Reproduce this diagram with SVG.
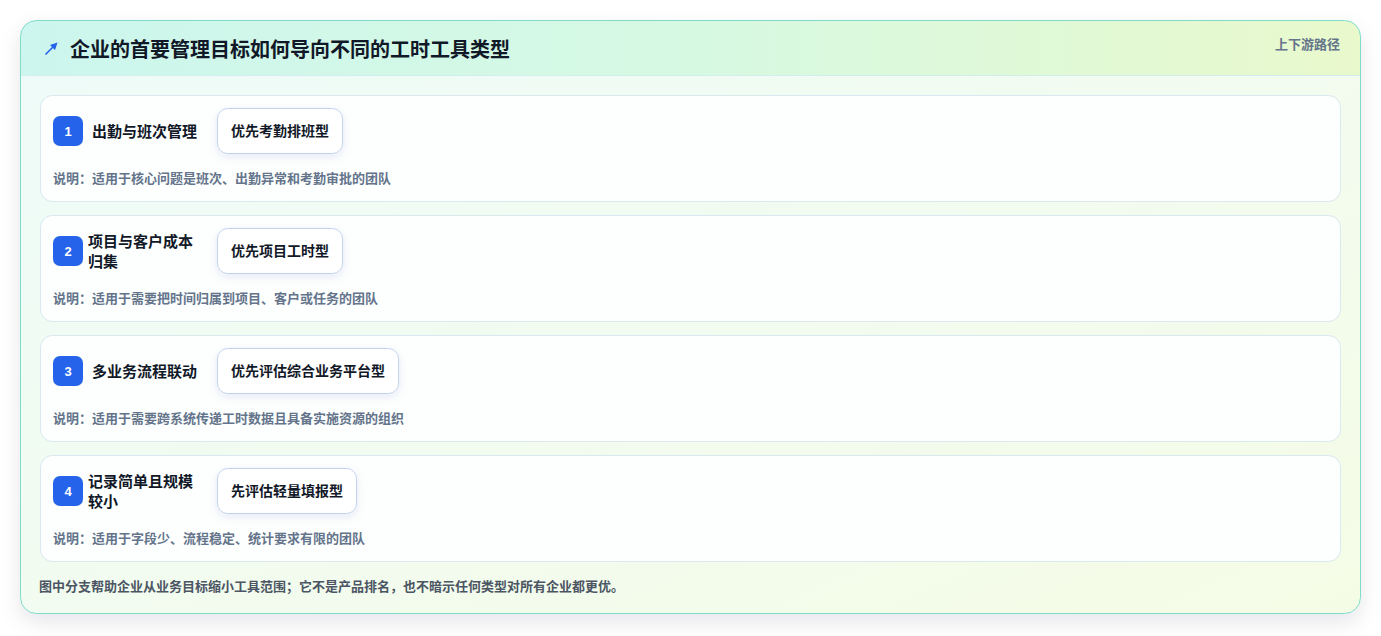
<svg xmlns="http://www.w3.org/2000/svg" width="1381" height="636" viewBox="0 0 1381 636">
<defs>
<linearGradient id="hdr" x1="0" y1="0" x2="1" y2="0">
<stop offset="0" stop-color="#ccf6ee"/>
<stop offset="0.5" stop-color="#d6f9e2"/>
<stop offset="1" stop-color="#e9f9cc"/>
</linearGradient>
<linearGradient id="body" x1="0" y1="0" x2="1" y2="1">
<stop offset="0" stop-color="#eefbf9"/>
<stop offset="1" stop-color="#f5fce6"/>
</linearGradient>
<clipPath id="cardclip"><rect x="20.5" y="20.5" width="1340" height="593" rx="16"/></clipPath>
<filter id="cardsh" x="-5%" y="-10%" width="110%" height="125%">
<feDropShadow dx="0" dy="8" stdDeviation="10" flood-color="#0f172a" flood-opacity="0.10"/>
</filter>
<filter id="toolsh" x="-20%" y="-30%" width="140%" height="170%">
<feDropShadow dx="0" dy="3" stdDeviation="4" flood-color="#1e3a8a" flood-opacity="0.10"/>
</filter>
<marker id="ah" viewBox="0 0 10 10" refX="6" refY="5" markerWidth="4.5" markerHeight="4.5" orient="auto"><path d="M0,0 L10,5 L0,10 z" fill="#2563eb"/></marker>
<style>
.row{fill:#fdfffe;stroke:#d9e9ef;stroke-width:1}
.badge{fill:#2563eb}
.num{font-family:"Liberation Sans","Noto Sans CJK SC",sans-serif;font-size:13px;font-weight:700;fill:#ffffff;text-anchor:middle}
.lbl{font-family:"Noto Sans CJK SC","Liberation Sans",sans-serif;font-size:15px;font-weight:700;fill:#111827}
.tool{fill:#ffffff;stroke:#c3d3ee;stroke-width:1}
.tt{font-family:"Noto Sans CJK SC","Liberation Sans",sans-serif;font-size:14px;font-weight:700;fill:#111827;text-anchor:middle}
.desc{font-family:"Noto Sans CJK SC","Liberation Sans",sans-serif;font-size:13px;font-weight:700;fill:#64748b}
.title{font-family:"Noto Sans CJK SC","Liberation Sans",sans-serif;font-size:20px;font-weight:700;fill:#111827}
.meta{font-family:"Noto Sans CJK SC","Liberation Sans",sans-serif;font-size:13px;font-weight:700;fill:#64748b;text-anchor:end}
.foot{font-family:"Noto Sans CJK SC","Liberation Sans",sans-serif;font-size:13px;font-weight:700;fill:#4b5563}
</style>
</defs>
<rect x="0" y="0" width="1381" height="636" fill="#ffffff"/>
<g id="card">
<rect x="20.5" y="20.5" width="1340" height="593" rx="16" fill="url(#body)" filter="url(#cardsh)"/>
<g clip-path="url(#cardclip)">
<rect x="20" y="20" width="1341" height="55" fill="url(#hdr)"/>
<line x1="20" y1="75.5" x2="1361" y2="75.5" stroke="#d3eeee" stroke-width="1"/>
</g>
<rect x="20.5" y="20.5" width="1340" height="593" rx="16" fill="none" stroke="#7fdccb" stroke-width="1"/>
</g>
<g id="header">
<line x1="45.5" y1="54.5" x2="55.5" y2="44.5" stroke="#2563eb" stroke-width="1.6" marker-end="url(#ah)"/>
<text class="title" x="70" y="56.5">企业的首要管理目标如何导向不同的工时工具类型</text>
<text class="meta" x="1340" y="49">上下游路径</text>
</g>
<g id="node-1">
<rect class="row" x="40.5" y="95.5" width="1300" height="106" rx="12"/>
<rect class="badge" x="53" y="116" width="30" height="30" rx="7"/>
<text class="num" x="68" y="135.5">1</text>
<text class="lbl" x="92" y="136.5">出勤与班次管理</text>
<rect class="tool" x="217.5" y="108.5" width="125" height="45" rx="10" filter="url(#toolsh)"/>
<text class="tt" x="280" y="135.5">优先考勤排班型</text>
<text class="desc" x="53" y="183">说明：适用于核心问题是班次、出勤异常和考勤审批的团队</text>
</g>
<g id="node-2">
<rect class="row" x="40.5" y="215.5" width="1300" height="106" rx="12"/>
<rect class="badge" x="53" y="236" width="30" height="30" rx="7"/>
<text class="num" x="68" y="255.5">2</text>
<text class="lbl" x="88" y="246.5">项目与客户成本</text>
<text class="lbl" x="88" y="267">归集</text>
<rect class="tool" x="217.5" y="228.5" width="125" height="45" rx="10" filter="url(#toolsh)"/>
<text class="tt" x="280" y="255.5">优先项目工时型</text>
<text class="desc" x="53" y="303">说明：适用于需要把时间归属到项目、客户或任务的团队</text>
</g>
<g id="node-3">
<rect class="row" x="40.5" y="335.5" width="1300" height="106" rx="12"/>
<rect class="badge" x="53" y="356" width="30" height="30" rx="7"/>
<text class="num" x="68" y="375.5">3</text>
<text class="lbl" x="92" y="376.5">多业务流程联动</text>
<rect class="tool" x="217.5" y="348.5" width="181" height="45" rx="10" filter="url(#toolsh)"/>
<text class="tt" x="308" y="375.5">优先评估综合业务平台型</text>
<text class="desc" x="53" y="423">说明：适用于需要跨系统传递工时数据且具备实施资源的组织</text>
</g>
<g id="node-4">
<rect class="row" x="40.5" y="455.5" width="1300" height="106" rx="12"/>
<rect class="badge" x="53" y="476" width="30" height="30" rx="7"/>
<text class="num" x="68" y="495.5">4</text>
<text class="lbl" x="88" y="486.5">记录简单且规模</text>
<text class="lbl" x="88" y="507">较小</text>
<rect class="tool" x="217.5" y="468.5" width="139" height="45" rx="10" filter="url(#toolsh)"/>
<text class="tt" x="287" y="495.5">先评估轻量填报型</text>
<text class="desc" x="53" y="543">说明：适用于字段少、流程稳定、统计要求有限的团队</text>
</g>
<g id="connectors"></g>
<g id="footer">
<text class="foot" x="39" y="590.5">图中分支帮助企业从业务目标缩小工具范围；它不是产品排名，也不暗示任何类型对所有企业都更优。</text>
</g>
</svg>
